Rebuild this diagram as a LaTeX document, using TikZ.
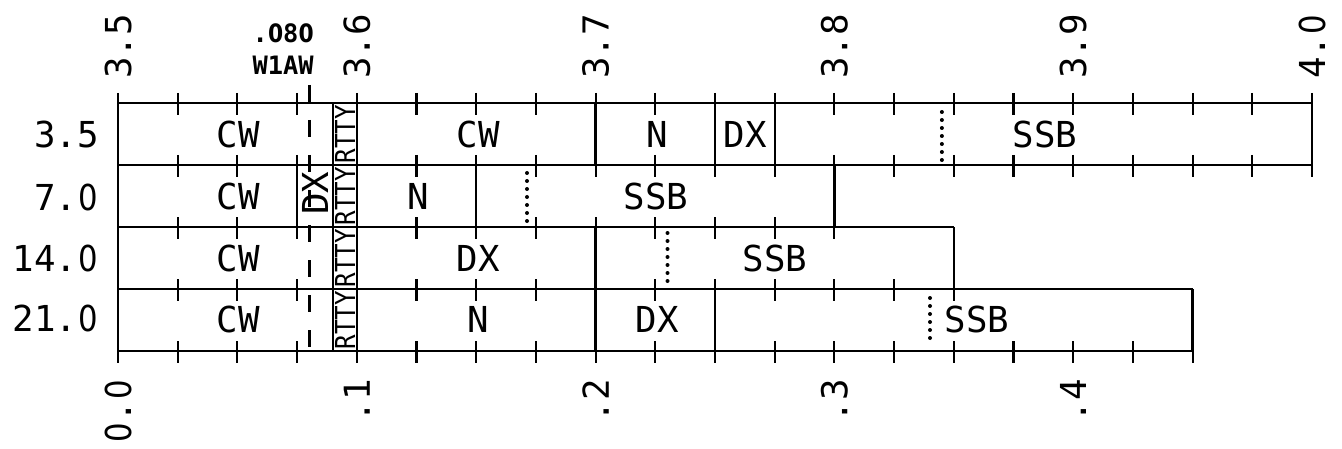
\documentclass[tikz,border=0pt]{standalone}
\usepackage{fontspec}
\newfontfamily\plotmono{DejaVu Sans Mono}
\newfontfamily\plotsans{DejaVu Sans}
\newcommand\pzero{\makebox[0.602em][c]{\scalebox{0.86}[1]{\plotsans 0}}}
\tikzset{
  hline/.style={line width=2.1pt},
  vline/.style={line width=1.7pt},
  tickmark/.style={line width=1.6pt},
  dashline/.style={line width=1.7pt, dash pattern=on 12.75pt off 13.5pt},
  dotline/.style={line width=3pt, line cap=round, dash pattern=on 0pt off 6pt},
  biglbl/.style={inner sep=0pt, font=\plotmono\fontsize{26.8}{30}\selectfont},
  axlbl/.style={biglbl, rotate=90},
  rttylbl/.style={inner sep=0pt, rotate=90, font=\plotmono\fontsize{20.6}{24}\selectfont},
  smalllbl/.style={inner sep=0pt, font=\plotmono\bfseries\fontsize{19}{22}\selectfont},
}
\begin{document}
\begin{tikzpicture}[x=0.75pt, y=-0.75pt]
\useasboundingbox (0,0) rectangle (1342,449);

% horizontal lines
\draw[hline] (118,103) -- (1312,103);
\draw[hline] (118,165) -- (1312,165);
\draw[hline] (118,227) -- (953.8,227);
\draw[hline] (118,289) -- (1192.6,289);
\draw[hline] (118,351) -- (1192.6,351);

% ticks
\foreach \k in {0,...,20} {\draw[tickmark] ({118+59.7*\k},93) -- ++(0,22);}
\foreach \k in {0,...,20} {\draw[tickmark] ({118+59.7*\k},155) -- ++(0,22);}
\foreach \k in {0,...,12} {\draw[tickmark] ({118+59.7*\k},217) -- ++(0,22);}
\foreach \k in {0,...,14} {\draw[tickmark] ({118+59.7*\k},279) -- ++(0,22);}
\foreach \k in {0,...,18} {\draw[tickmark] ({118+59.7*\k},341) -- ++(0,22);}

% row outlines and segment boundaries
\draw[vline] (118,103) -- (118,351);
\draw[vline] (1312,103) -- (1312,165);
\draw[vline] (834.4,165) -- (834.4,227);
\draw[vline] (953.8,227) -- (953.8,289);
\draw[vline] (1192.6,289) -- (1192.6,351);
\draw[vline] (332.9,103) -- (332.9,351);
\draw[vline] (356.8,103) -- (356.8,351);
\draw[vline] (595.6,103) -- (595.6,165);
\draw[vline] (595.6,227) -- (595.6,351);
\draw[vline] (715,103) -- (715,165);
\draw[vline] (715,289) -- (715,351);
\draw[vline] (774.7,103) -- (774.7,165);
\draw[vline] (297.1,165) -- (297.1,227);
\draw[vline] (476.2,165) -- (476.2,227);

% W1AW dashed line
\draw[dashline] (309.5,85) -- (309.5,350);

% dotted lines
\draw[dotline] (941.9,112) -- (941.9,161);
\draw[dotline] (527,173) -- (527,221);
\draw[dotline] (667.5,233) -- (667.5,283);
\draw[dotline] (930,298) -- (930,344);

% top axis labels
\node[axlbl, anchor=west] (t35) at (118,79) {3.5};
\node[axlbl, anchor=west] (t36) at (356.8,79) {3.6};
\node[axlbl, anchor=west] (t37) at (595.6,79) {3.7};
\node[axlbl, anchor=west] (t38) at (834.4,79) {3.8};
\node[axlbl, anchor=west] (t39) at (1073.2,79) {3.9};
\node[axlbl, anchor=west] (t40) at (1312,79) {4.\pzero};

% bottom axis labels
\node[axlbl, anchor=east] (b0) at (118,379) {\pzero.\pzero};
\node[axlbl, anchor=east] (b1) at (356.8,379) {.1};
\node[axlbl, anchor=east] (b2) at (595.6,379) {.2};
\node[axlbl, anchor=east] (b3) at (834.4,379) {.3};
\node[axlbl, anchor=east] (b4) at (1073.2,379) {.4};

% W1AW label
\node[smalllbl, anchor=east] (w080) at (314,33) {.\pzero8\pzero};
\node[smalllbl, anchor=east] (w1aw) at (314,65) {W1AW};

% row labels
\node[biglbl, anchor=east] (r1) at (99,134.5) {3.5};
\node[biglbl, anchor=east] (r2) at (99,197.5) {7.\pzero};
\node[biglbl, anchor=east] (r3) at (99,258.5) {14.\pzero};
\node[biglbl, anchor=east] (r4) at (99,318.5) {21.\pzero};

% RTTY column
\node[rttylbl] (rt1) at (345,134) {\scalebox{0.88}[1]{RTTY}};
\node[rttylbl] (rt2) at (345,196) {\scalebox{0.88}[1]{RTTY}};
\node[rttylbl] (rt3) at (345,258) {\scalebox{0.88}[1]{RTTY}};
\node[rttylbl] (rt4) at (345,320) {\scalebox{0.88}[1]{RTTY}};

% row 1
\node[biglbl] (a1) at (238,134.5) {CW};
\node[biglbl] (a2) at (478,134.5) {CW};
\node[biglbl] (a3) at (657,134.5) {N};
\node[biglbl] (a4) at (745,134.5) {DX};
\node[biglbl] (a5) at (1045,134.5) {SSB};

% row 2
\node[biglbl] (c1) at (238,196.5) {CW};
\node[biglbl, rotate=90] (c2) at (315,193) {DX};
\node[biglbl] (c3) at (418,196.5) {N};
\node[biglbl] (c4) at (656,196.5) {SSB};

% row 3
\node[biglbl] (d1) at (238,258.5) {CW};
\node[biglbl] (d2) at (478,258.5) {DX};
\node[biglbl] (d3) at (775,258.5) {SSB};

% row 4
\node[biglbl] (e1) at (238,319.5) {CW};
\node[biglbl] (e2) at (478,319.5) {N};
\node[biglbl] (e3) at (657,319.5) {DX};
\node[biglbl] (e4) at (977,319.5) {SSB};
\end{tikzpicture}
\end{document}
